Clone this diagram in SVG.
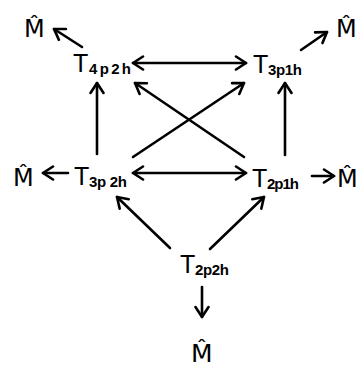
<svg xmlns="http://www.w3.org/2000/svg" width="358" height="370" viewBox="0 0 358 370">
<style>
.t{font-family:"Liberation Sans",Arial,sans-serif;font-size:25px;fill:#000}
.s{font-size:15px;font-weight:bold}
.m{font-family:"DejaVu Sans","Liberation Sans",sans-serif;font-size:24px;fill:#000}
.c line{stroke:#000;stroke-width:2.6;fill:none;stroke-linecap:round}
.a{marker-end:url(#ah)}
.d{marker-start:url(#ah);marker-end:url(#ah)}
</style>
<defs>
<marker id="ah" markerUnits="userSpaceOnUse" viewBox="0 0 14 16" refX="12" refY="8" markerWidth="14" markerHeight="16" orient="auto-start-reverse">
<path d="M2,1.5 L12,8 L2,14.5" fill="none" stroke="#000" stroke-width="2.6" stroke-linecap="round" stroke-linejoin="round"/>
</marker>
</defs>
<g id="T4p2h"><text class="t" x="73" y="72">T<tspan class="s" x="89" y="74" textLength="42" lengthAdjust="spacing">4p2h</tspan></text></g>
<g id="T3p1h"><text class="t" x="253" y="73">T<tspan class="s" x="268" y="75" textLength="34" lengthAdjust="spacing">3p1h</tspan></text></g>
<g id="T3p2h"><text class="t" x="74" y="185">T<tspan class="s" x="89" y="187" textLength="38" lengthAdjust="spacing">3p 2h</tspan></text></g>
<g id="T2p1h"><text class="t" x="252" y="187">T<tspan class="s" x="267" y="189" textLength="32" lengthAdjust="spacing">2p1h</tspan></text></g>
<g id="T2p2h"><text class="t" x="180" y="273">T<tspan class="s" x="195" y="275" textLength="34" lengthAdjust="spacing">2p2h</tspan></text></g>
<g id="M_topleft"><text class="m" x="24" y="37">M̂</text></g>
<g id="M_topright"><text class="m" x="336" y="37">M̂</text></g>
<g id="M_left"><text class="m" x="13" y="186">M̂</text></g>
<g id="M_right"><text class="m" x="337" y="187">M̂</text></g>
<g id="M_bottom"><text class="m" x="191" y="362" style="font-size:25px">M̂</text></g>
<g id="connectors" class="c">
<line class="a" x1="82" y1="47" x2="54" y2="29"/>
<line class="a" x1="301" y1="50" x2="327" y2="32"/>
<line class="d" x1="133" y1="63" x2="246" y2="63"/>
<line class="a" x1="97" y1="154" x2="97" y2="83"/>
<line class="a" x1="285" y1="155" x2="285" y2="83"/>
<line class="a" x1="244" y1="157" x2="135" y2="83"/>
<line class="a" x1="133" y1="157" x2="244" y2="83"/>
<line class="a" x1="68" y1="173" x2="43" y2="173"/>
<line class="d" x1="133" y1="173" x2="246" y2="173"/>
<line class="a" x1="312" y1="176" x2="334" y2="176"/>
<line class="a" x1="170" y1="248" x2="117" y2="197"/>
<line class="a" x1="210" y1="249" x2="264" y2="197"/>
<line class="a" x1="202" y1="287" x2="202" y2="317"/>
</g>
</svg>
